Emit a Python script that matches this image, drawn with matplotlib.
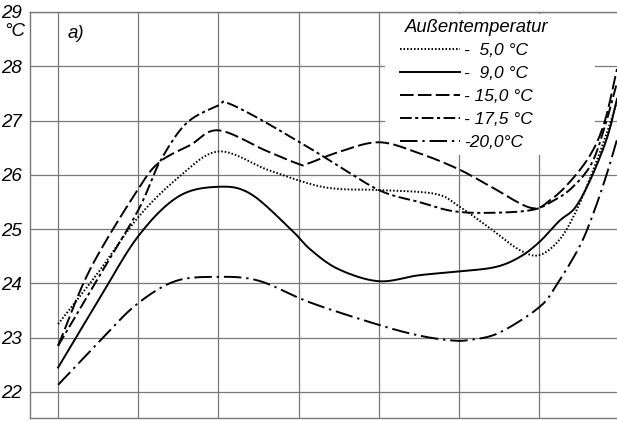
import numpy as np
import matplotlib
matplotlib.use("Agg")
import matplotlib.pyplot as plt
from matplotlib.patches import Rectangle

plt.rcParams['font.family'] = ['Liberation Sans Narrow', 'Liberation Sans', 'DejaVu Sans']
plt.rcParams['font.style'] = 'italic'

# ---- data (x in grid units, y in °C) ----
x_5 = [0, 0.5, 1.0, 1.5, 2.0, 2.6, 3.15, 3.5, 4.0, 4.7, 5.0, 5.4, 5.75, 6.0, 6.25, 6.45, 6.65, 6.85, 6.97]
y_5 = [23.25, 24.2, 25.22, 25.95, 26.43, 26.1, 25.83, 25.74, 25.72, 25.65, 25.42, 25.0, 24.62, 24.52, 24.8, 25.3, 26.0, 26.8, 27.35]

x_9 = [0, 0.5, 1.0, 1.5, 2.0, 2.4, 2.9, 3.15, 3.5, 4.0, 4.5, 5.0, 5.45, 5.75, 6.0, 6.25, 6.45, 6.65, 6.85, 6.97]
y_9 = [22.45, 23.68, 24.87, 25.6, 25.78, 25.65, 25.0, 24.62, 24.26, 24.04, 24.15, 24.22, 24.3, 24.48, 24.76, 25.15, 25.4, 25.95, 26.7, 27.4]

x_15 = [0, 0.4, 1.0, 1.27, 1.65, 2.0, 2.6, 3.0, 3.1, 3.5, 4.0, 4.5, 5.0, 5.4, 5.9, 6.15, 6.4, 6.65, 6.82, 6.97]
y_15 = [22.85, 24.26, 25.74, 26.24, 26.55, 26.82, 26.44, 26.2, 26.2, 26.42, 26.6, 26.4, 26.1, 25.78, 25.39, 25.55, 25.9, 26.4, 27.0, 27.95]

x_17 = [0, 0.5, 1.0, 1.27, 1.6, 2.0, 2.1, 2.5, 3.15, 3.35, 4.0, 4.5, 4.93, 5.4, 5.9, 6.15, 6.4, 6.65, 6.82, 6.97]
y_17 = [22.85, 24.1, 25.35, 26.24, 26.95, 27.28, 27.33, 27.04, 26.48, 26.3, 25.72, 25.5, 25.33, 25.3, 25.35, 25.5, 25.75, 26.2, 26.9, 27.7]

x_20 = [0, 0.56, 0.985, 1.46, 1.98, 2.5, 3.14, 3.99, 4.5, 4.9, 5.14, 5.5, 6.0, 6.22, 6.51, 6.69, 6.85, 6.97]
y_20 = [22.13, 23.0, 23.62, 24.04, 24.12, 24.05, 23.65, 23.24, 23.04, 22.95, 22.96, 23.09, 23.56, 23.98, 24.7, 25.35, 26.05, 26.65]

legend_title = "Außentemperatur"
labels = ["-  5,0 °C", "-  9,0 °C", "- 15,0 °C", "- 17,5 °C", "-20,0°C"]
y_ticks = [22, 23, 24, 25, 26, 27, 28, 29]
x_grid = [0, 1, 2, 3, 4, 5, 6]


def smooth(xs, ys, n=12):
    """Catmull-Rom rendering through the read points."""
    P = np.column_stack([xs, ys]).astype(float)
    P = np.vstack([2 * P[0] - P[1], P, 2 * P[-1] - P[-2]])
    out = []
    t = np.linspace(0, 1, n, endpoint=False)[:, None]
    for i in range(1, len(P) - 2):
        p0, p1, p2, p3 = P[i - 1], P[i], P[i + 1], P[i + 2]
        seg = 0.5 * ((2 * p1) + (-p0 + p2) * t + (2 * p0 - 5 * p1 + 4 * p2 - p3) * t ** 2
                     + (-p0 + 3 * p1 - 3 * p2 + p3) * t ** 3)
        out.append(seg)
    out.append(P[-2][None, :])
    S = np.vstack(out)
    return S[:, 0], S[:, 1]


W, H = 617, 421
fig = plt.figure(figsize=(W / 100, H / 100), dpi=100)
AX_L, AX_B, AX_W, AX_H = 30, 3, 587, 406
ax = fig.add_axes([AX_L / W, AX_B / H, AX_W / W, AX_H / H])
ax.set_xlim(-0.35, 6.97)
ax.set_ylim(21.52, 29)


def axfrac(px, py):
    return (px - AX_L) / AX_W, (H - AX_B - py) / AX_H


gc = '#787878'
for xv in x_grid:
    ax.axvline(xv, color=gc, lw=0.9, zorder=1)
for yv in y_ticks:
    ax.axhline(yv, color=gc, lw=0.9, zorder=1)

lw = 1.4
styles = [
    dict(linestyle=(0, (0.8, 1.0))),
    dict(linestyle='-'),
    dict(linestyle=(0, (7, 2.2))),
    dict(linestyle=(0, (6, 1.8, 1.6, 1.8))),
    dict(linestyle=(0, (9, 2.5, 1.2, 2.5))),
]
series = [(x_5, y_5), (x_9, y_9), (x_15, y_15), (x_17, y_17), (x_20, y_20)]
handles = []
for (xs, ys), st, lab in zip(series, styles, labels):
    sx, sy = smooth(xs, ys)
    h, = ax.plot(sx, sy, color='black', lw=lw, label=lab, zorder=3, **st)
    handles.append(h)

for s in ['left', 'top', 'bottom']:
    ax.spines[s].set_color(gc)
    ax.spines[s].set_linewidth(1.0)
ax.spines['right'].set_visible(False)

ax.set_xticks([])
ax.set_yticks(y_ticks)
ax.set_yticklabels([str(v) for v in y_ticks], fontsize=13.5, style='italic')
ax.tick_params(axis='y', length=0, pad=6)

ax.text(*axfrac(15, 31), "°C", transform=ax.transAxes, ha='center', va='center',
        fontsize=13.5, style='italic')
ax.text(*axfrac(76, 34), "a)", transform=ax.transAxes, ha='center', va='center',
        fontsize=13.5, style='italic')

# white legend area (under the curves, over the grid)
x0, y0 = axfrac(385, 155)
x1, y1 = axfrac(595, 14)
ax.add_patch(Rectangle((x0, y0), x1 - x0, y1 - y0, transform=ax.transAxes,
                       facecolor='white', edgecolor='none', zorder=2))
ax.text(*axfrac(405, 28), legend_title, transform=ax.transAxes, ha='left', va='center',
        fontsize=13.3, style='italic', zorder=6)

leg = ax.legend(handles=handles, labels=labels,
                loc='upper left', bbox_to_anchor=axfrac(400, 43), borderaxespad=0,
                fontsize=12.5, frameon=False,
                handlelength=3.45, handletextpad=0.25, labelspacing=0.45,
                borderpad=0.0)
leg.set_zorder(6)

fig.savefig("out.png", dpi=100)
